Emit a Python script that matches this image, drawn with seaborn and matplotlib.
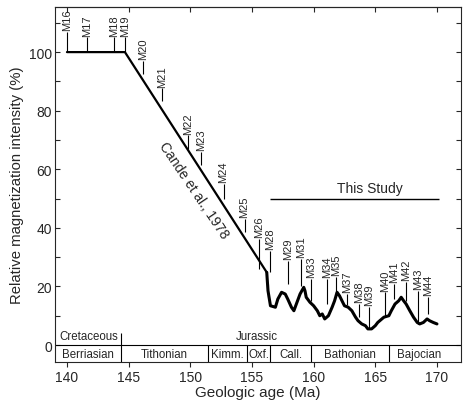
"""Magnetization intensity vs geologic age — Cande et al. line + this study."""

import matplotlib

matplotlib.use("Agg")
import matplotlib.pyplot as plt
import numpy as np
import pandas as pd
import seaborn as sns
from matplotlib.ticker import MultipleLocator

# Cande et al., 1978 model
cande_age = [140.0, 144.7, 156.2]
cande_int = [100.0, 100.0, 24.8]

# This study
study_age = [156.2, 156.3, 156.3, 156.5, 156.9, 157.1, 157.4, 157.7, 157.9, 158.2,
             158.4, 158.6, 158.9, 159.2, 159.3, 159.4, 159.7, 160.0, 160.3, 160.5,
             160.7, 160.9, 161.2, 161.5, 161.7, 161.9, 162.1, 162.3, 162.5, 162.8,
             163.1, 163.4, 163.6, 163.9, 164.2, 164.4, 164.7, 165.0, 165.2, 165.7,
             166.1, 166.3, 166.6, 166.9, 167.1, 167.3, 167.5, 167.8, 168.1, 168.4,
             168.6, 168.9, 169.2, 169.4, 169.7, 170.0]
study_int = [24.8, 20.8, 16.3, 13.4, 12.9, 15.7, 18.0, 17.4, 15.7, 12.9,
             11.7, 14.0, 17.4, 19.7, 18.5, 16.3, 14.6, 13.4, 11.7, 10.0,
             10.6, 8.9, 10.0, 12.9, 15.1, 18.0, 16.8, 15.1, 13.4, 12.9,
             11.7, 9.5, 8.3, 7.2, 6.6, 5.5, 5.5, 6.6, 7.7, 9.5,
             10.0, 11.7, 14.0, 15.1, 16.3, 15.1, 14.0, 11.7, 9.5, 7.7,
             7.2, 7.7, 8.9, 8.3, 7.7, 7.2]

# magnetic anomaly markers: name, age, bottom and top of the tick
anom_names = ["M16", "M17", "M18", "M19", "M20", "M21", "M22", "M23", "M24", "M25",
              "M26", "M28", "M29", "M31", "M33", "M34", "M35", "M37", "M38", "M39",
              "M40", "M41", "M42", "M43", "M44"]
anom_age = [140.0, 141.6, 143.8, 144.7, 146.2, 147.7, 149.8, 150.9, 152.7, 154.4,
            155.6, 156.5, 157.9, 159.0, 159.8, 161.1, 161.8, 162.7, 163.7, 164.5,
            165.8, 166.5, 167.5, 168.5, 169.3]
anom_lo = [100, 100, 100, 100, 92.5, 83.4, 67.0, 61.4, 49.8, 38.6,
           26.0, 25.0, 20.8, 20.1, 15.0, 14.0, 17.4, 13.5, 9.6, 5.5,
           10.0, 15.7, 15.0, 7.2, 10.6]
anom_hi = [106.8, 105.0, 105.0, 105.0, 97.0, 87.6, 71.6, 66.0, 55.0, 43.0,
           36.2, 32.1, 28.7, 29.4, 22.5, 22.5, 23.2, 17.5, 14.0, 13.0,
           18.0, 20.8, 21.5, 18.4, 16.4]

# stages along the bottom
stage_names = ["Berriasian", "Tithonian", "Kimm.", "Oxf.", "Call.", "Bathonian", "Bajocian"]
stage_bounds = [139.0, 144.4, 151.4, 154.6, 156.5, 159.8, 166.1, 171.0]
period_names = ["Cretaceous", "Jurassic"]
period_centers = [141.75, 155.4]

sns.set_style("ticks")
plt.rcParams["font.family"] = ["Liberation Sans", "DejaVu Sans"]

fig = plt.figure(figsize=(4.67, 4.02), dpi=100)
ax = fig.add_axes([55 / 467, 39 / 402, 406 / 467, 355 / 402])

cande = pd.DataFrame({"age": cande_age, "intensity": cande_int})
study = pd.DataFrame({"age": study_age, "intensity": study_int})
sns.lineplot(data=cande, x="age", y="intensity", color="black", lw=1.6, sort=False,
             ax=ax)
sns.lineplot(data=study, x="age", y="intensity", color="black", lw=2.2, sort=False,
             ax=ax)

ax.vlines(anom_age, anom_lo, anom_hi, color="black", lw=0.8)
for name, x, top in zip(anom_names, anom_age, anom_hi):
    ax.text(x, top + 0.6, name, rotation=90, ha="center", va="bottom", fontsize=8)

ax.text(150.3, 52.9, "Cande et al., 1978", rotation=-56, rotation_mode="anchor",
        ha="center", va="center", fontsize=10)
ax.hlines(50, 156.5, 170.2, color="black", lw=1.0)
ax.text(164.6, 51.2, "This Study", ha="center", va="bottom", fontsize=10)

# stage/period strip
ymin = -5.8
ax.axhline(0, color="black", lw=0.8)
ax.vlines(stage_bounds[1], ymin, 4.0, color="black", lw=0.8)
ax.vlines(stage_bounds[2:-1], ymin, 0, color="black", lw=0.8)
for name, a, b in zip(stage_names, stage_bounds[:-1], stage_bounds[1:]):
    ax.text((a + b) / 2, ymin / 2, name, ha="center", va="center", fontsize=8.3)
for name, x in zip(period_names, period_centers):
    ax.text(x, 3.0, name, ha="center", va="center", fontsize=8.3)

ax.set_xlim(139.03, 171.95)
ax.set_ylim(ymin, 115.4)
ax.set_xticks(np.arange(140, 171, 5))
ax.set_yticks(np.arange(0, 101, 20))
ax.yaxis.set_minor_locator(MultipleLocator(10))
ax.set_xlabel("Geologic age (Ma)", fontsize=11, labelpad=1)
ax.set_ylabel("Relative magnetization intensity (%)", fontsize=10.7, labelpad=4)

for side in ["top", "right", "bottom", "left"]:
    ax.spines[side].set_visible(True)
    ax.spines[side].set_linewidth(0.8)
ax.tick_params(axis="x", which="both", direction="out", length=3.5, width=0.8,
               labelsize=10, pad=2, top=False)
ax.tick_params(axis="y", which="both", direction="in", length=3.5, width=0.8,
               labelsize=10, pad=2, right=True)

# inward ticks along the top edge
ax_top = ax.secondary_xaxis("top")
ax_top.set_xticks(np.arange(140, 171, 5))
ax_top.tick_params(direction="in", length=3.5, width=0.8, labeltop=False)

fig.savefig("out.png", dpi=100)
plt.close(fig)
